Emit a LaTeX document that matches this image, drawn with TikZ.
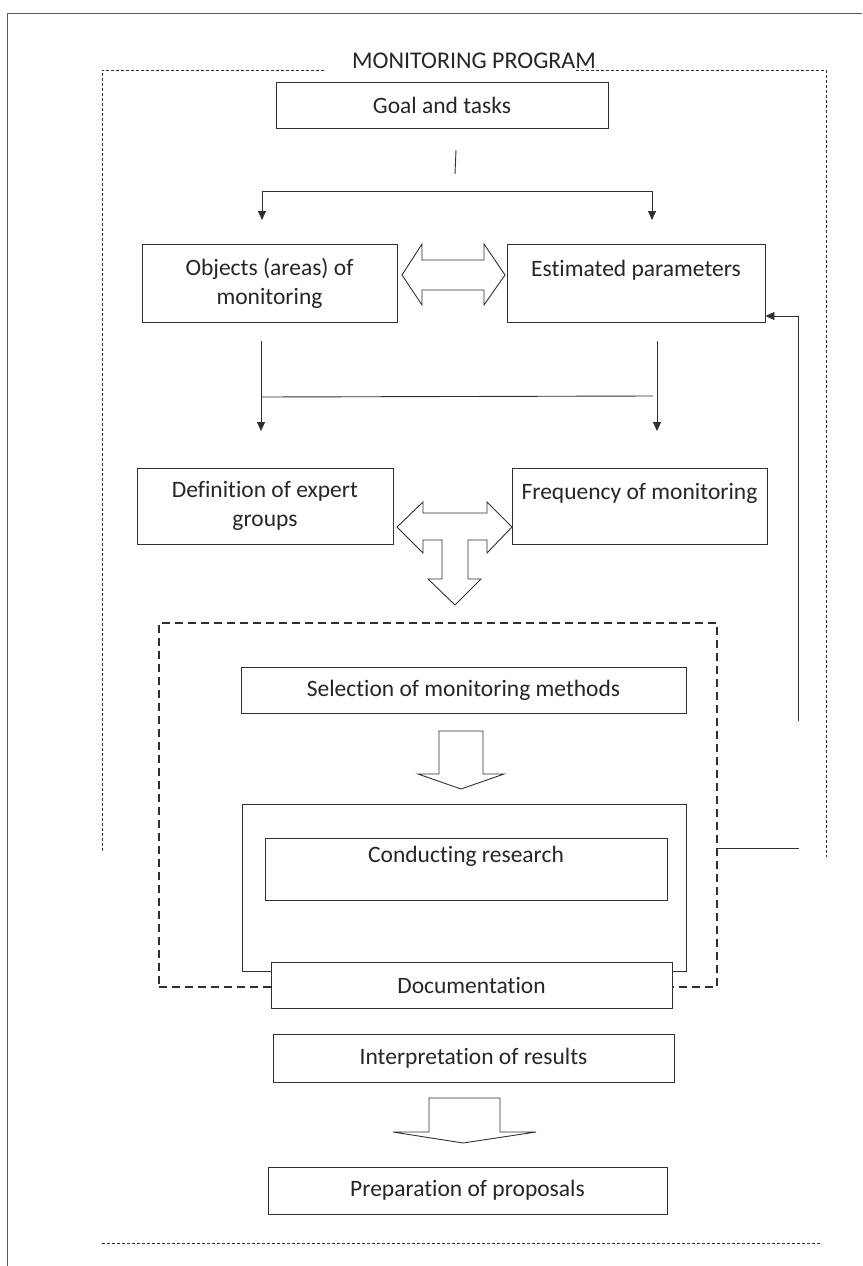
\documentclass[tikz,border=0pt]{standalone}
\usepackage{fontspec}
\setmainfont{Carlito}[Ligatures=NoCommon]
\usetikzlibrary{arrows.meta,calc}
\definecolor{ink}{HTML}{262626}
\definecolor{line}{HTML}{303030}
\tikzset{
  box/.style={draw=line,fill=white,line width=0.9pt,align=center,inner sep=0pt,font=\fontsize{23.5}{29}\selectfont,text=ink},
  flow/.style={-{Triangle[length=9pt,width=8pt]},line width=0.9pt,draw=line},
  link/.style={line width=0.9pt,draw=line},
  outer/.style={line width=0.8pt,draw=line,dash pattern=on 3pt off 2pt},
  stagebox/.style={draw=line,line width=1.1pt,dash pattern=on 8pt off 5pt,inner sep=0pt},
  fat/.style={draw=line,fill=white,line width=0.9pt,line join=miter}
}

\begin{document}
\begin{tikzpicture}[x=1pt,y=-1pt]
    \useasboundingbox (0,0) rectangle (862,1266);
    % page frame
    \draw[line width=1pt,draw=line!80] (7,1266) -- (7,13) -- (862,13);

    % program frame
    \node[font=\fontsize{24}{29}\selectfont,text=ink,inner sep=0pt] (title) at (474,61) {MONITORING PROGRAM};
    \draw[outer] (324,70) -- (102,70) -- (102,851);
    \draw[outer] (576,70) -- (826,70) -- (826,857);
    \draw[outer] (102,1243) -- (820,1243);

    \node[box,minimum width=332pt,minimum height=46pt] (goal) at (442,105) {Goal and tasks};

    \coordinate (tickA) at (456,150);
    \coordinate (tickB) at (455,174);
    \coordinate (forkL) at (262,191);
    \coordinate (forkR) at (652,191);
    \coordinate (dropL) at (262,220);
    \coordinate (dropR) at (652,220);
    \draw[link] (tickA) -- (tickB);
    \draw[link] (forkL) -- (forkR);
    \draw[flow] (forkL) -- (dropL);
    \draw[flow] (forkR) -- (dropR);

    \node[box,minimum width=255pt,minimum height=78pt] (objects) at (269.5,283) {Objects (areas) of\\monitoring};
    \node[box,minimum width=258pt,minimum height=78pt] (params) at (636,283) {Estimated parameters\\\mbox{}};
    \draw[fat] (402,275) -- (422,244) -- (422,260) -- (484,260) -- (484,244) -- (505,275)
      -- (484,305) -- (484,290) -- (422,290) -- (422,305) -- cycle;

    \coordinate (objout) at (261,341);
    \coordinate (parout) at (657,341);
    \coordinate (joinL) at (261,397);
    \coordinate (joinR) at (653,396);
    \coordinate (defin) at (261,431);
    \coordinate (freqin) at (657,431);
    \draw[flow] (objout) -- (defin);
    \draw[flow] (parout) -- (freqin);
    \draw[link] (joinL) -- (joinR);

    \node[box,minimum width=256pt,minimum height=76pt] (experts) at (265,506) {Definition of expert\\groups};
    \node[box,minimum width=255pt,minimum height=76pt] (freq) at (639.5,506) {Frequency of monitoring\\\mbox{}};
    \draw[fat] (397,527) -- (423,502) -- (423,513) -- (487,513) -- (487,502) -- (512,527)
      -- (487,553) -- (487,540) -- (468,540) -- (468,579) -- (481,579) -- (455,605)
      -- (428,579) -- (442,579) -- (442,540) -- (423,540) -- (423,553) -- cycle;

    % methods and research block
    \node[stagebox,minimum width=558pt,minimum height=364pt] (stage) at (438,805) {};
    \node[box,minimum width=445pt,minimum height=46pt] (methods) at (463.5,690) {Selection of monitoring methods};
    \draw[fat] (439,731) -- (483,731) -- (483,774) -- (504,774) -- (461,789) -- (418,774) -- (439,774) -- cycle;
    \node[box,minimum width=444pt,minimum height=167pt] (study) at (464,887.5) {};
    \node[box,minimum width=402pt,minimum height=62pt] (research) at (466,869) {Conducting research\\\mbox{}};
    \node[box,minimum width=401pt,minimum height=46pt] (docs) at (471.5,985) {Documentation};

    % feedback to parameters
    \coordinate (fbfoot) at (798,721);
    \coordinate (fbtop) at (798,316);
    \coordinate (stub) at (799,848);
    \draw[flow] (fbfoot) -- (fbtop) -- (fbtop -| params.east);
    \draw[link] (stage.east |- stub) -- (stub);

    \node[box,minimum width=401pt,minimum height=48pt] (results) at (473.5,1058) {Interpretation of results};
    \draw[fat] (429,1098) -- (500,1098) -- (500,1132) -- (536,1132) -- (463,1143) -- (393,1132) -- (429,1132) -- cycle;
    \node[box,minimum width=399pt,minimum height=47pt] (proposals) at (467.5,1190.5) {Preparation of proposals};
\end{tikzpicture}
\end{document}
